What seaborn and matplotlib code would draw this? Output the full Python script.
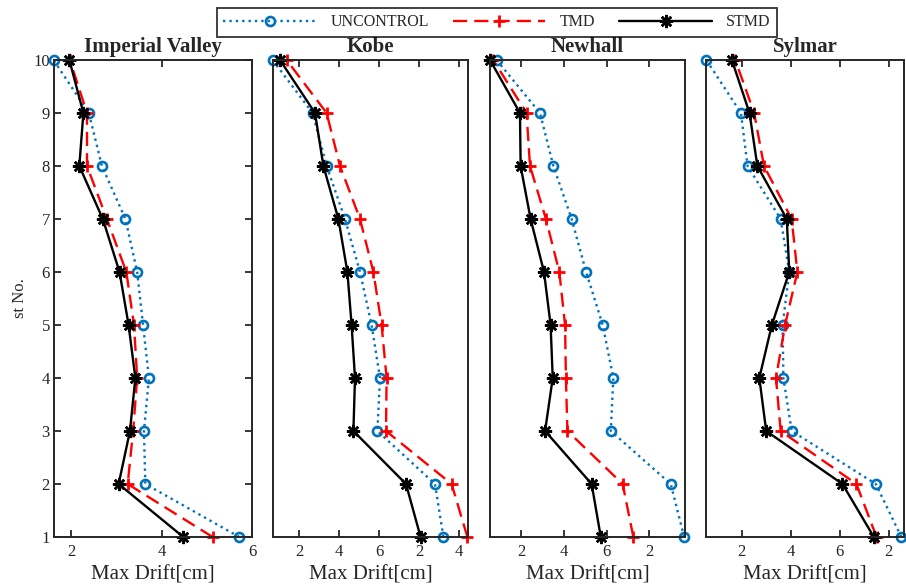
import matplotlib
matplotlib.use("Agg")
import matplotlib.pyplot as plt
import pandas as pd
import seaborn as sns

# Data (story drift)
stories = [1, 2, 3, 4, 5, 6, 7, 8, 9, 10]
quakes = ["Imperial Valley", "Kobe", "Newhall", "Sylmar"]
series = ["UNCONTROL", "TMD", "STMD"]

imperial_unc = [5.72, 3.64, 3.61, 3.72, 3.59, 3.46, 3.20, 2.68, 2.39, 1.61]
imperial_tmd = [5.13, 3.25, 3.37, 3.46, 3.39, 3.22, 2.79, 2.35, 2.35, 1.97]
imperial_stmd = [4.48, 3.05, 3.30, 3.42, 3.27, 3.07, 2.70, 2.18, 2.27, 1.96]

kobe_unc = [9.22, 8.80, 5.92, 6.05, 5.63, 5.05, 4.30, 3.38, 2.68, 0.68]
kobe_tmd = [10.42, 9.63, 6.35, 6.38, 6.13, 5.72, 5.05, 4.05, 3.38, 1.38]
kobe_stmd = [8.08, 7.35, 4.72, 4.80, 4.63, 4.42, 3.97, 3.22, 2.80, 1.05]

newhall_unc = [9.65, 9.02, 6.20, 6.32, 5.82, 5.04, 4.36, 3.50, 2.87, 0.83]
newhall_tmd = [7.26, 6.76, 4.16, 4.09, 4.05, 3.78, 3.15, 2.40, 2.24, 0.67]
newhall_stmd = [5.73, 5.30, 3.11, 3.47, 3.37, 3.06, 2.43, 1.96, 1.93, 0.52]

sylmar_unc = [8.51, 7.47, 4.04, 3.70, 3.67, 3.94, 3.59, 2.24, 1.97, 0.56]
sylmar_tmd = [7.50, 6.68, 3.59, 3.40, 3.77, 4.27, 4.04, 2.91, 2.51, 1.74]
sylmar_stmd = [7.39, 6.11, 3.00, 2.72, 3.23, 3.94, 3.84, 2.64, 2.32, 1.60]

# axis limits and tick labels per panel
xlims = [(1.62, 6.0), (0.7, 10.45), (0.52, 9.69), (0.545, 8.62)]
xticks = [[2, 4, 6], [2, 4, 6, 8, 10], [2, 4, 6, 8], [2, 4, 6, 8]]
xticklabels = [["2", "4", "6"], ["2", "4", "6", "2", "4"],
               ["2", "4", "6", "2"], ["2", "4", "6", "2"]]

values = {
    "Imperial Valley": [imperial_unc, imperial_tmd, imperial_stmd],
    "Kobe": [kobe_unc, kobe_tmd, kobe_stmd],
    "Newhall": [newhall_unc, newhall_tmd, newhall_stmd],
    "Sylmar": [sylmar_unc, sylmar_tmd, sylmar_stmd],
}

rows = []
for q in quakes:
    for s, vals in zip(series, values[q]):
        for st, v in zip(stories, vals):
            rows.append({"quake": q, "series": s, "story": st, "drift": v})
df = pd.DataFrame(rows)

sns.set_style("white")
plt.rcParams["font.family"] = ["Liberation Serif", "DejaVu Serif"]

# line styles (MATLAB look)
styles = {
    "UNCONTROL": dict(color="#0072BD", linestyle=(0, (1, 1.7)), marker="o",
                      markersize=6.5, markeredgewidth=1.9,
                      markerfacecolor="none", markeredgecolor="#0072BD"),
    "TMD": dict(color="#FF0000", linestyle=(0, (6, 3)), marker="+",
                markersize=9, markeredgewidth=2, markeredgecolor="#FF0000"),
    "STMD": dict(color="black", linestyle="-", marker=(8, 2, 0),
                 markersize=9.5, markeredgewidth=1.8, markeredgecolor="black"),
}

fig = plt.figure(figsize=(9.06, 5.84), dpi=100)

lefts = [54, 273, 490, 706]
rights = [252, 468, 685, 904]
top_px, bot_px = 60, 537
W, H = 906, 584

axes = []
for i, q in enumerate(quakes):
    ax = fig.add_axes([lefts[i] / W, (H - bot_px) / H,
                       (rights[i] - lefts[i]) / W, (bot_px - top_px) / H])
    sub = df[df["quake"] == q]
    for s in series:
        d = sub[sub["series"] == s]
        sns.lineplot(data=d, x="drift", y="story", ax=ax, sort=False,
                     estimator=None, linewidth=1.7, clip_on=False,
                     label=s, legend=False, **styles[s])
    ax.set_xlim(*xlims[i])
    ax.set_ylim(1, 10)
    ax.set_xticks(xticks[i])
    ax.set_xticklabels(xticklabels[i])
    ax.set_title(q, fontsize=15, fontweight="bold", pad=6)
    ax.set_xlabel("Max Drift[cm]", fontsize=15, color="#262626", labelpad=4)
    for sp in ax.spines.values():
        sp.set_linewidth(1.4)
        sp.set_color("#262626")
    ax.tick_params(axis="x", direction="in", top=True, bottom=True,
                   length=5, width=1.3, labelsize=12, colors="#262626", pad=5)
    if i == 0:
        ax.set_yticks(stories)
        ax.set_ylabel("st No.", fontsize=12, color="#262626", labelpad=4)
        ax.tick_params(axis="y", direction="in", left=True, right=True,
                       length=5, width=1.3, labelsize=12, colors="#262626", pad=3)
    else:
        ax.set_yticks([])
        ax.set_ylabel("")
    axes.append(ax)

handles, labels = axes[0].get_legend_handles_labels()
leg = fig.legend(handles, labels, loc="upper center",
                 bbox_to_anchor=(497 / W, 1 - 8 / H), ncol=3, frameon=True,
                 fancybox=False, fontsize=11.5, handlelength=5.8,
                 handletextpad=0.9, columnspacing=1.5, borderpad=0.4,
                 borderaxespad=0, numpoints=1)
leg.get_frame().set_edgecolor("black")
leg.get_frame().set_linewidth(1.3)
for t in leg.get_texts():
    t.set_color("#262626")

fig.savefig("out.png", dpi=100)
